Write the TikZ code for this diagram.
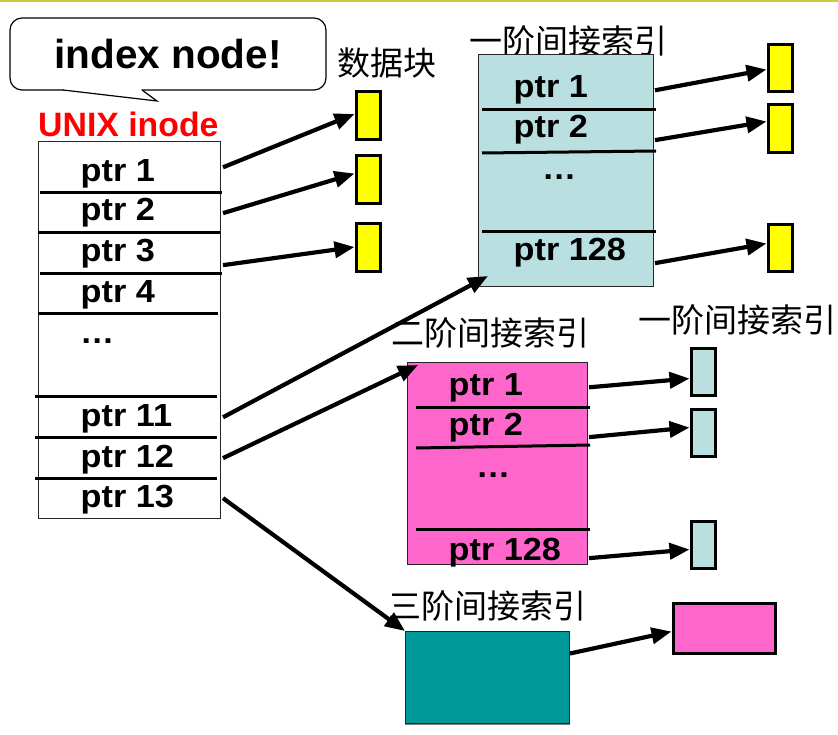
\documentclass[tikz,border=0pt]{standalone}
\usepackage{fontspec}
\setmainfont{Liberation Sans}
\newfontfamily\ptrfont{Liberation Sans}[FakeStretch=1.07]
\newfontfamily\cjk{Noto Sans CJK SC}
\usetikzlibrary{arrows.meta,calc}
\definecolor{topline}{RGB}{204,204,68}
\definecolor{lblue}{RGB}{185,223,225}
\definecolor{pinkm}{RGB}{255,102,204}
\definecolor{tealc}{RGB}{0,153,153}
\definecolor{yel}{RGB}{255,255,0}
\definecolor{unixred}{RGB}{255,0,0}
\begin{document}
\begin{tikzpicture}[x=1pt,y=-1pt,
  ptr/.style={inner sep=0pt, anchor=base west, font=\ptrfont\fontsize{32}{36}\selectfont\bfseries},
  cjklab/.style={inner sep=0pt, font=\cjk\fontsize{33}{38}\selectfont},
  bigbox/.style={draw=black!85, line width=1pt, inner sep=0pt, anchor=north west},
  blk/.style={draw=black, line width=3pt, inner sep=0pt, anchor=north west, minimum width=24pt},
  sepline/.style={line width=3pt},
  arr/.style={line width=4.2pt, -{Triangle[length=20pt,width=16pt]}},
]
\fill[white] (0,0) rectangle (838,735);
\useasboundingbox (0,0) rectangle (838,735);
\fill[topline] (0,0) rectangle (838,2.5);

% callout
\node[draw, line width=1.2pt, rounded corners=12pt, fill=white, inner sep=0pt,
      minimum width=316pt, minimum height=72pt,
      font=\fontsize{40.5}{46}\selectfont\bfseries] (callout) at (168,54) {index node!};
\fill[white] (63.5,89.2) -- (63.5,90) -- (157,101) -- (141.5,90) -- (141.5,89.2) -- cycle;
\draw[line width=1.2pt, line join=miter] (63,90) -- (157,101) -- (142,90);

% labels
\node[cjklab] (lbldata) at (387,63) {数据块};
\node[inner sep=0pt, anchor=base west, text=unixred, font=\fontsize{33.8}{38}\selectfont\bfseries] (lblunix) at (38,137) {UNIX inode};
\node[cjklab] (lbl1a) at (568,41) {一阶间接索引};
\node[cjklab] (lbl2) at (490,333) {二阶间接索引};
\node[cjklab] (lbl1b) at (737,320) {一阶间接索引};
\node[cjklab] (lbl3) at (487,606) {三阶间接索引};

% inode table
\node[bigbox, minimum width=182pt, minimum height=377pt] (inode) at (38,141) {};
\draw[sepline] (40,193) -- (222,193);
\draw[sepline] (38,233) -- (220,233);
\draw[sepline] (40,274) -- (222,274);
\draw[sepline] (38,314) -- (218,314);
\draw[sepline] (35,396) -- (217,396);
\draw[sepline] (35,437) -- (217,437);
\draw[sepline] (35,478) -- (217,478);
\node[ptr] (p1) at (80.5,182) {ptr 1};
\node[ptr] (p2) at (80.5,221) {ptr 2};
\node[ptr] (p3) at (80.5,262) {ptr 3};
\node[ptr] (p4) at (80.5,303) {ptr 4};
\node[ptr] (pd) at (80,343) {…};
\node[ptr] (p11) at (80.5,426) {ptr 11};
\node[ptr] (p12) at (80.5,467) {ptr 12};
\node[ptr] (p13) at (80.5,507) {ptr 13};

% data blocks
\node[blk, fill=yel, minimum height=48pt] (d1) at (354.5,90.5) {};
\node[blk, fill=yel, minimum height=48pt] (d2) at (354.5,154.5) {};
\node[blk, fill=yel, minimum height=48pt] (d3) at (354.5,222.5) {};

% single indirect
\node[bigbox, fill=lblue, minimum width=175pt, minimum height=232pt] (b) at (478,54) {};
\draw[sepline] (482,110) -- (656,110);
\draw[sepline] (482,153) -- (656,151);
\draw[sepline] (482,232) -- (656,232);
\node[ptr] (q1) at (513.5,98) {ptr 1};
\node[ptr] (q2) at (513.5,138) {ptr 2};
\node[ptr] (qd) at (542,180) {…};
\node[ptr] (q128) at (513.5,261) {ptr 128};
\node[blk, fill=yel, minimum height=47pt] (e1) at (766.5,43.5) {};
\node[blk, fill=yel, minimum height=48pt] (e2) at (766.5,103.5) {};
\node[blk, fill=yel, minimum height=47pt] (e3) at (766.5,223.5) {};

% double indirect
\node[bigbox, fill=pinkm, minimum width=180pt, minimum height=202pt] (m) at (407,362) {};
\draw[sepline] (416,407) -- (590,407);
\draw[sepline] (416,448) -- (590,445);
\draw[sepline] (416,529) -- (590,529);
\node[ptr] (r1) at (448.5,395) {ptr 1};
\node[ptr] (r2) at (448.5,435) {ptr 2};
\node[ptr] (rd) at (476,477) {…};
\node[ptr] (r128) at (448.5,560) {ptr 128};
\node[blk, fill=lblue, minimum height=47pt] (f1) at (689.5,346.5) {};
\node[blk, fill=lblue, minimum height=47pt] (f2) at (689.5,407.5) {};
\node[blk, fill=lblue, minimum height=47pt] (f3) at (689.5,519.5) {};

% triple indirect
\draw[gray, line width=1.5pt] (405,724.5) -- (570,724.5);
\node[bigbox, fill=tealc, minimum width=164pt, minimum height=92pt] (t) at (405,631) {};
\node[blk, fill=pinkm, minimum width=102pt, minimum height=50pt] (g) at (671.5,601.5) {};

% arrows from inode
\draw[arr] ($(inode.east |- p1)+(2,-7)$) -- ($(d1.west)+(0,-2)$);
\draw[arr] ($(inode.east |- p2)+(2,0)$) -- ($(d2.west)+(0,-6.5)$);
\draw[arr] ($(inode.east |- p3)+(2,11)$) -- ($(d3.west)+(0,-1)$);
\draw[arr] ($(inode.east |- p11)+(2,-1)$) -- ($(b.south west)+(10,-11)$);
\draw[arr] ($(inode.east |- p12)+(2,-1)$) -- ($(m.north west)+(11,3)$);
\draw[arr] ($(inode.east |- p13)+(2,-1)$) -- (t.north west);

% arrows from single indirect
\draw[arr] ($(b.east |- q1)+(1,0)$) -- ($(e1.west)+(0,1)$);
\draw[arr] ($(b.east |- q2)+(1,10)$) -- ($(e2.west)+(0,-7.5)$);
\draw[arr] ($(b.east |- q128)+(1,10)$) -- ($(e3.west)+(0,-5)$);

% arrows from double indirect
\draw[arr] ($(m.east |- r1)+(1,0)$) -- ($(f1.west)+(0,7)$);
\draw[arr] ($(m.east |- r2)+(1,10)$) -- ($(f2.west)+(0,-5)$);
\draw[arr] ($(m.east |- r128)+(1,6)$) -- ($(f3.west)+(0,5)$);

% triple indirect arrow
\draw[arr] ($(t.east)+(0,-24)$) -- ($(g.west)+(0,3.5)$);
\end{tikzpicture}
\end{document}
